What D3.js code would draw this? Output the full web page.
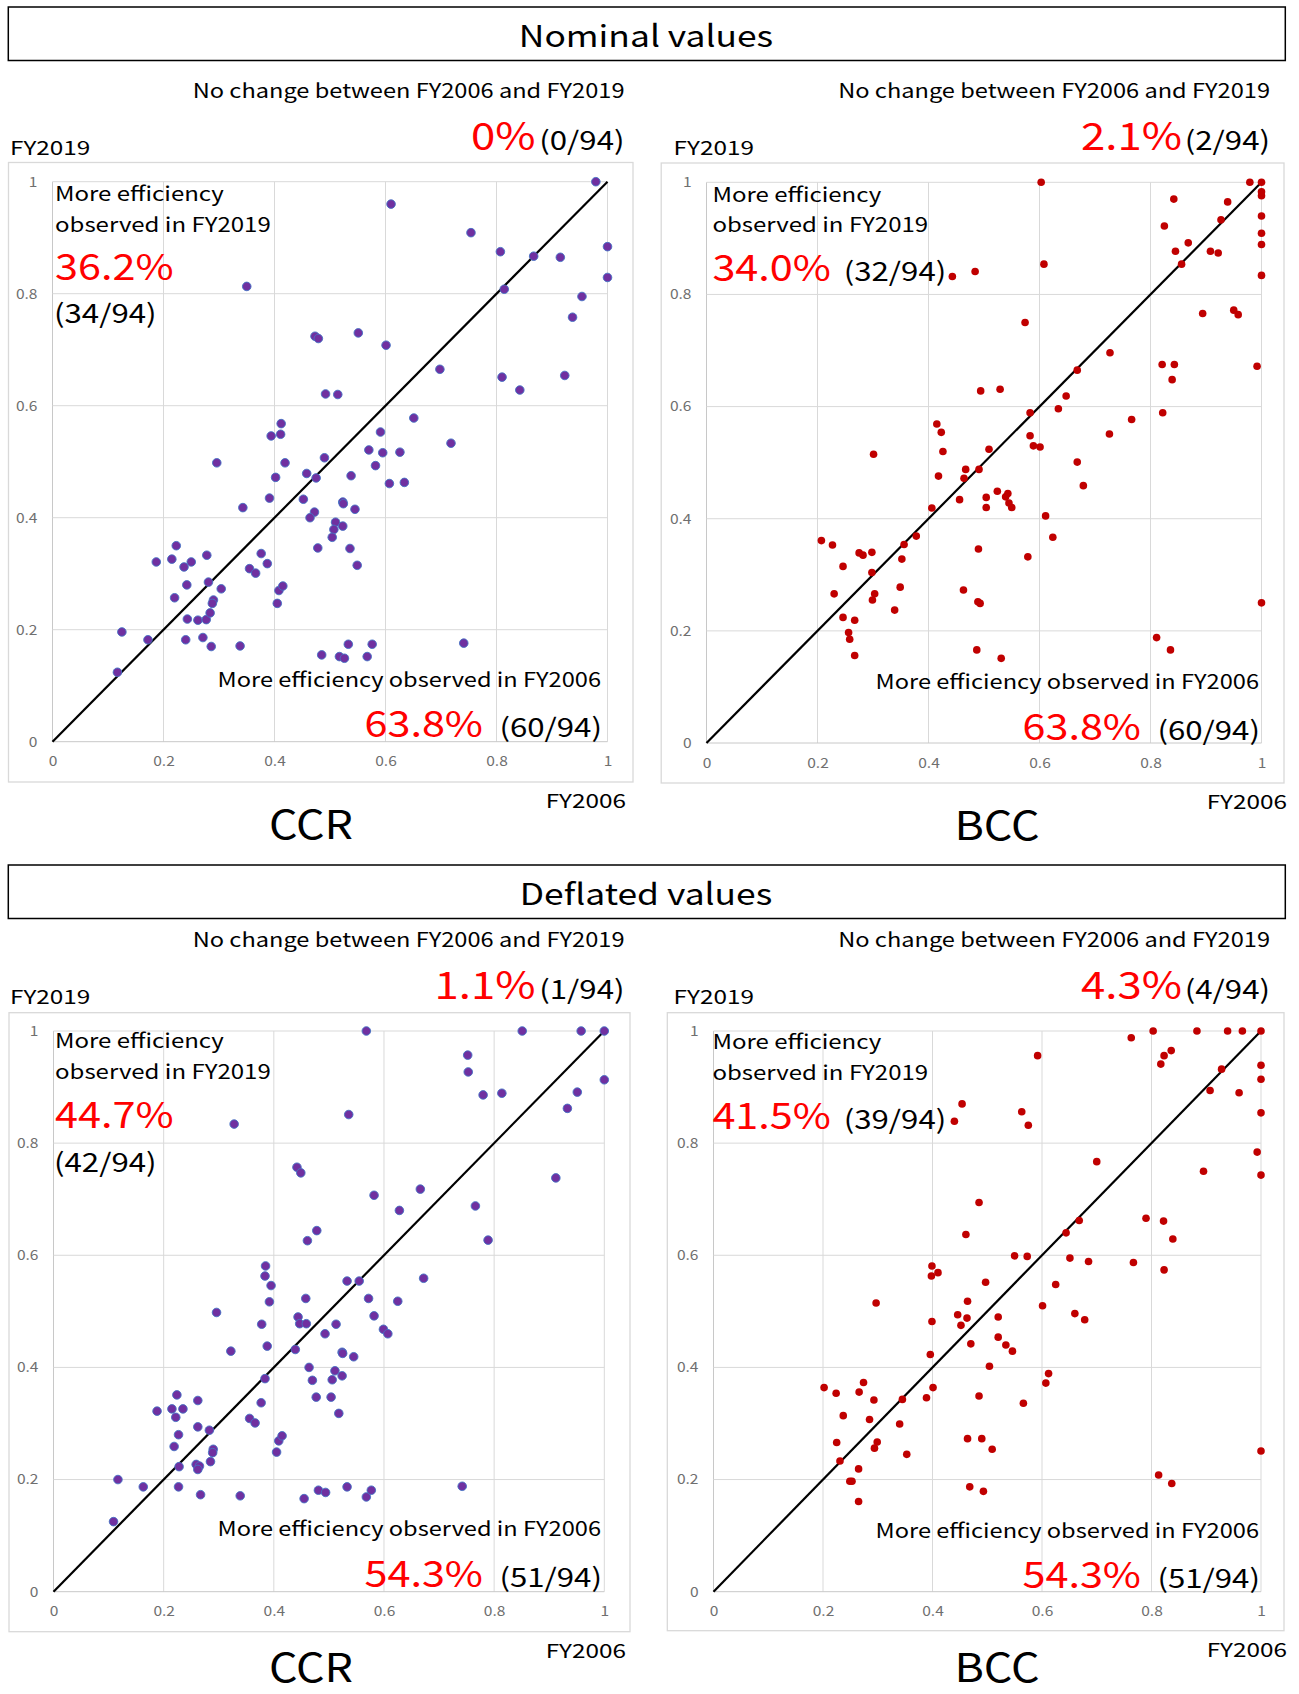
<!DOCTYPE html>
<html>
<head>
<meta charset="utf-8">
<script src="https://cdn.jsdelivr.net/npm/d3@7"></script>
<style>
  body { margin: 0; background: #fff; }
  text { font-family: "Noto Sans CJK JP", "Noto Sans", sans-serif; }
</style>
</head>
<body>
<svg id="chart"></svg>
<script>
// Efficiency scores FY2006 (x) vs FY2019 (y), 94 units per panel
// pairs are [FY2006, FY2019]

const nominalCCR = [
  [0.979,1.000],[0.610,0.960],[0.754,0.909],[0.807,0.875],[0.867,0.867],[0.915,0.865],[1.000,0.884],[1.000,0.829],
  [0.350,0.813],[0.814,0.808],[0.954,0.795],[0.937,0.758],[0.473,0.724],[0.479,0.720],[0.551,0.730],[0.601,0.708],
  [0.698,0.665],[0.810,0.651],[0.923,0.654],[0.842,0.628],[0.492,0.621],[0.514,0.620],[0.651,0.578],[0.412,0.568],
  [0.394,0.546],[0.411,0.549],[0.591,0.553],[0.718,0.533],[0.570,0.521],[0.595,0.516],[0.626,0.517],[0.296,0.498],
  [0.419,0.498],[0.490,0.507],[0.582,0.493],[0.458,0.479],[0.538,0.475],[0.402,0.472],[0.475,0.471],[0.607,0.461],
  [0.634,0.463],[0.343,0.418],[0.391,0.435],[0.452,0.433],[0.523,0.428],[0.524,0.425],[0.545,0.415],[0.472,0.410],
  [0.464,0.400],[0.510,0.392],[0.507,0.379],[0.523,0.385],[0.504,0.365],[0.478,0.346],[0.536,0.345],[0.549,0.315],
  [0.223,0.350],[0.187,0.321],[0.215,0.326],[0.237,0.312],[0.250,0.321],[0.278,0.333],[0.376,0.336],[0.387,0.318],
  [0.355,0.309],[0.366,0.301],[0.242,0.280],[0.281,0.285],[0.304,0.273],[0.220,0.257],[0.290,0.253],[0.288,0.247],
  [0.408,0.270],[0.415,0.278],[0.405,0.247],[0.243,0.219],[0.262,0.217],[0.277,0.218],[0.284,0.230],[0.125,0.196],
  [0.172,0.182],[0.240,0.182],[0.271,0.186],[0.286,0.170],[0.338,0.171],[0.117,0.124],[0.485,0.155],[0.517,0.152],
  [0.526,0.149],[0.533,0.174],[0.567,0.152],[0.576,0.174],[0.741,0.176]
]

const nominalBCC = [
  [0.603,1.000],[0.979,1.000],[1.000,1.000],[1.000,0.983],[1.000,0.976],[0.842,0.970],[0.939,0.965],[0.927,0.933],
  [1.000,0.940],[0.825,0.922],[1.000,0.909],[0.868,0.892],[1.000,0.889],[0.845,0.877],[0.908,0.877],[0.922,0.874],
  [0.856,0.854],[0.608,0.854],[1.000,0.834],[0.443,0.832],[0.484,0.841],[0.894,0.766],[0.950,0.772],[0.958,0.764],
  [0.574,0.750],[0.727,0.696],[0.821,0.675],[0.843,0.675],[0.992,0.672],[0.839,0.648],[0.668,0.665],[0.494,0.628],
  [0.529,0.631],[0.648,0.619],[0.634,0.596],[0.583,0.589],[0.822,0.589],[0.766,0.577],[0.415,0.569],[0.423,0.554],
  [0.583,0.548],[0.726,0.551],[0.589,0.530],[0.601,0.528],[0.509,0.524],[0.426,0.520],[0.301,0.515],[0.668,0.501],
  [0.467,0.488],[0.491,0.488],[0.418,0.476],[0.464,0.472],[0.679,0.459],[0.524,0.449],[0.543,0.445],[0.504,0.438],
  [0.456,0.434],[0.539,0.439],[0.545,0.428],[0.550,0.420],[0.504,0.420],[0.406,0.419],[0.611,0.405],[0.624,0.367],
  [0.378,0.369],[0.356,0.354],[0.207,0.361],[0.227,0.353],[0.275,0.339],[0.282,0.335],[0.298,0.340],[0.352,0.328],
  [0.246,0.315],[0.298,0.304],[0.490,0.346],[0.579,0.332],[0.349,0.278],[0.230,0.266],[0.303,0.266],[0.299,0.255],
  [0.463,0.273],[0.489,0.252],[0.493,0.249],[0.339,0.237],[0.246,0.224],[0.267,0.219],[0.256,0.197],[0.258,0.185],
  [0.267,0.156],[0.487,0.166],[0.531,0.151],[0.811,0.188],[0.836,0.166],[1.000,0.250]
]

const deflatedCCR = [
  [0.568,1.000],[0.851,1.000],[0.958,1.000],[1.000,1.000],[0.752,0.957],[0.753,0.927],[1.000,0.913],[0.780,0.886],
  [0.814,0.889],[0.951,0.891],[0.933,0.862],[0.536,0.851],[0.328,0.834],[0.442,0.757],[0.449,0.747],[0.912,0.738],
  [0.666,0.718],[0.582,0.707],[0.766,0.688],[0.628,0.680],[0.478,0.644],[0.461,0.626],[0.789,0.627],[0.385,0.581],
  [0.384,0.563],[0.395,0.546],[0.672,0.559],[0.533,0.554],[0.555,0.554],[0.392,0.517],[0.458,0.523],[0.572,0.523],
  [0.625,0.518],[0.296,0.498],[0.582,0.492],[0.444,0.490],[0.378,0.477],[0.447,0.478],[0.459,0.478],[0.513,0.477],
  [0.599,0.468],[0.493,0.460],[0.607,0.460],[0.322,0.429],[0.388,0.438],[0.439,0.432],[0.524,0.427],[0.525,0.425],
  [0.545,0.419],[0.464,0.400],[0.511,0.394],[0.384,0.380],[0.470,0.377],[0.506,0.378],[0.524,0.385],[0.477,0.347],
  [0.504,0.347],[0.518,0.318],[0.224,0.351],[0.262,0.341],[0.188,0.322],[0.215,0.326],[0.235,0.326],[0.222,0.311],
  [0.377,0.337],[0.356,0.309],[0.366,0.301],[0.262,0.294],[0.283,0.288],[0.227,0.280],[0.219,0.259],[0.290,0.254],
  [0.289,0.248],[0.409,0.269],[0.415,0.278],[0.405,0.249],[0.285,0.232],[0.228,0.223],[0.259,0.227],[0.265,0.224],
  [0.262,0.218],[0.117,0.200],[0.163,0.187],[0.227,0.187],[0.267,0.173],[0.339,0.171],[0.109,0.125],[0.455,0.166],
  [0.481,0.181],[0.494,0.177],[0.533,0.187],[0.568,0.169],[0.577,0.181],[0.742,0.188]
]

const deflatedBCC = [
  [0.803,1.000],[0.883,1.000],[0.939,1.000],[0.966,1.000],[1.000,1.000],[0.763,0.988],[0.823,0.956],[0.836,0.965],
  [0.817,0.941],[0.592,0.956],[0.928,0.932],[1.000,0.939],[1.000,0.914],[0.907,0.894],[0.960,0.890],[1.000,0.854],
  [0.454,0.870],[0.440,0.839],[0.563,0.856],[0.575,0.832],[0.993,0.784],[0.700,0.767],[0.895,0.750],[1.000,0.743],
  [0.485,0.694],[0.790,0.666],[0.822,0.661],[0.668,0.662],[0.839,0.629],[0.461,0.637],[0.644,0.640],[0.550,0.599],
  [0.573,0.598],[0.651,0.595],[0.685,0.589],[0.767,0.587],[0.823,0.574],[0.399,0.581],[0.398,0.563],[0.410,0.569],
  [0.497,0.552],[0.625,0.548],[0.464,0.518],[0.297,0.515],[0.601,0.510],[0.446,0.494],[0.463,0.488],[0.520,0.490],
  [0.660,0.496],[0.678,0.485],[0.399,0.482],[0.452,0.475],[0.520,0.454],[0.470,0.442],[0.534,0.440],[0.546,0.429],
  [0.396,0.423],[0.504,0.402],[0.612,0.389],[0.607,0.372],[0.401,0.364],[0.202,0.364],[0.224,0.354],[0.274,0.373],
  [0.266,0.356],[0.293,0.342],[0.345,0.343],[0.389,0.346],[0.485,0.349],[0.566,0.336],[0.237,0.314],[0.285,0.307],
  [0.340,0.299],[0.225,0.266],[0.299,0.267],[0.294,0.256],[0.353,0.245],[0.464,0.273],[0.490,0.273],[0.509,0.254],
  [0.231,0.233],[0.265,0.219],[0.249,0.197],[0.253,0.197],[0.265,0.161],[0.468,0.187],[0.493,0.179],[0.813,0.208],
  [0.837,0.193],[1.000,0.251]
]

// labels
const sectionTitles = ['Nominal values', 'Deflated values']
const modelNames   = ['CCR', 'BCC', 'CCR', 'BCC']
const noChangePct  = ['0%', '2.1%', '1.1%', '4.3%']
const noChangeCnt  = ['(0/94)', '(2/94)', '(1/94)', '(4/94)']
const upPct        = ['36.2%', '34.0%', '44.7%', '41.5%']
const upCnt        = ['(34/94)', '(32/94)', '(42/94)', '(39/94)']
const downPct      = ['63.8%', '63.8%', '54.3%', '54.3%']
const downCnt      = ['(60/94)', '(60/94)', '(51/94)', '(51/94)']
const tickValues   = [0, 0.2, 0.4, 0.6, 0.8, 1]
const series       = [nominalCCR, nominalBCC, deflatedCCR, deflatedBCC]

const W = 1299, H = 1694
const RED = '#ff0000'
const WIDE = 1.2   // el texto original usa una fuente más ancha

svg = d3.select('#chart').attr('width', W).attr('height', H)

// posiciones de cada panel (px)
const layout = [
  { box: [8.5, 162.5, 633, 782], plot: [52.5, 607.5, 741.7, 181.7], fyX: 10, top: 0,
    upX: 55, upY: [200.7, 231.7, 280, 323], inline: false, dnR: 601, dnY: [687, 737], dnPctR: 483, dnCntR: 602,
    ncR: 624.5, ncPctR: 535.5, fy06R: 626, nameX: 311, dot: 'ccr' },
  { box: [661.2, 163, 1284, 783], plot: [706.5, 1261.5, 743, 182.3], fyX: 673.6, top: 0,
    upX: 712.4, upY: [201.7, 231.7, 280.7], inline: true, cntX: 843.7, dnR: 1259, dnY: [689.3, 740], dnPctR: 1141, dnCntR: 1260,
    ncR: 1270, ncPctR: 1182, fy06R: 1287, nameX: 997, dot: 'bcc' },
  { box: [9, 1012.7, 630, 1631.7], plot: [53.5, 604.3, 1591.7, 1031], fyX: 10, top: 849,
    upX: 55, upY: [1048.3, 1079, 1128, 1171.7], inline: false, dnR: 601, dnY: [1536, 1586.7], dnPctR: 483, dnCntR: 602,
    ncR: 624.5, ncPctR: 535.5, fy06R: 626, nameX: 311, dot: 'ccr' },
  { box: [667.3, 1012.7, 1284, 1630.7], plot: [713.5, 1261, 1591.7, 1031], fyX: 673.6, top: 849,
    upX: 712.4, upY: [1049, 1080, 1129], inline: true, cntX: 843.7, dnR: 1259, dnY: [1537.7, 1587.7], dnPctR: 1141, dnCntR: 1260,
    ncR: 1270, ncPctR: 1182, fy06R: 1287, nameX: 997, dot: 'bcc' }
]

function label(g, s, x, y, size, opts = {}) {
  const t = g.append('text')
    .attr('x', x).attr('y', y)
    .attr('font-size', size)
    .attr('fill', opts.color || '#000')
    .attr('text-anchor', opts.anchor || 'start')
    .text(s)
  const w = t.node().getComputedTextLength()
  t.attr('textLength', w * (opts.wide || WIDE)).attr('lengthAdjust', 'spacingAndGlyphs')
  return t
}

// cajas de título
const titleY = [7, 865]
sectionTitles.forEach((s, i) => {
  svg.append('rect')
    .attr('x', 8.3).attr('y', titleY[i])
    .attr('width', 1277).attr('height', 53.5)
    .attr('fill', '#fff').attr('stroke', '#000').attr('stroke-width', 1.5)
  label(svg, s, 646, titleY[i] + 40, 30, { anchor: 'middle', wide: 1.18 })
})

function drawPanel(L, i) {
  const data = series[i]
  const g = svg.append('g')

  // borde del gráfico
  g.append('rect')
    .attr('x', L.box[0]).attr('y', L.box[1])
    .attr('width', L.box[2] - L.box[0]).attr('height', L.box[3] - L.box[1])
    .attr('fill', '#fff').attr('stroke', '#d9d9d9').attr('stroke-width', 1.3)

  const x = d3.scaleLinear().domain([0, 1]).range([L.plot[0], L.plot[1]])
  const y = d3.scaleLinear().domain([0, 1]).range([L.plot[2], L.plot[3]])

  // grilla
  g.selectAll('.vg').data(tickValues).join('line')
    .attr('x1', d => x(d)).attr('x2', d => x(d))
    .attr('y1', y(0)).attr('y2', y(1))
    .attr('stroke', d => d === 0 ? '#c8c8c8' : '#d9d9d9').attr('stroke-width', 1)
  g.selectAll('.hg').data(tickValues).join('line')
    .attr('y1', d => y(d)).attr('y2', d => y(d))
    .attr('x1', x(0)).attr('x2', x(1))
    .attr('stroke', d => d === 0 ? '#c8c8c8' : '#d9d9d9').attr('stroke-width', 1)

  // ejes (solo etiquetas)
  const fmt = d => d === 0 ? '0' : d === 1 ? '1' : d.toFixed(1)
  const yAxis = g.append('g')
    .attr('transform', `translate(${x(0)},0)`)
    .call(d3.axisLeft(y).tickValues(tickValues).tickSize(0).tickPadding(15).tickFormat(fmt))
  const xAxis = g.append('g')
    .attr('transform', `translate(0,${y(0)})`)
    .call(d3.axisBottom(x).tickValues(tickValues).tickSize(0).tickPadding(15).tickFormat(fmt))
  ;[yAxis, xAxis].forEach(a => {
    a.select('.domain').remove()
    a.selectAll('text')
      .attr('fill', '#6f6f6f').attr('font-size', 13.5)
      .each(function() {
        this.setAttribute('textLength', this.getComputedTextLength() * 1.15)
        this.setAttribute('lengthAdjust', 'spacingAndGlyphs')
      })
  })

  // línea de 45°
  g.append('line')
    .attr('x1', x(0)).attr('y1', y(0))
    .attr('x2', x(1)).attr('y2', y(1))
    .attr('stroke', '#000').attr('stroke-width', 2.2)

  // puntos
  const ccr = L.dot === 'ccr'
  g.selectAll('circle').data(data).join('circle')
    .attr('cx', d => x(d[0]))
    .attr('cy', d => y(d[1]))
    .attr('r', ccr ? 4.3 : 3.8)
    .attr('fill', ccr ? '#7030a0' : '#c00000')
    .attr('stroke', ccr ? '#4472c4' : 'none')
    .attr('stroke-width', 0.9)

  // textos fuera del gráfico
  label(g, 'FY2019', L.fyX, 155 + L.top, 19, { wide: 1.28 })
  label(g, 'No change between FY2006 and FY2019', L.ncR, 98.3 + L.top, 20, { anchor: 'end', wide: 1.18 })
  label(g, noChangeCnt[i], L.ncR, 150 + L.top, 26, { anchor: 'end' })
  label(g, noChangePct[i], L.ncPctR, 150 + L.top, 38, { anchor: 'end', color: RED, wide: 1.15 })
  label(g, 'FY2006', L.fy06R, L.box[3] + 26, 19, { anchor: 'end', wide: 1.28 })
  // el nombre de abajo queda pegado al borde inferior; se sube un poco
  label(g, modelNames[i], L.nameX, Math.min(L.box[3] + 57, H - 12), 40, { anchor: 'middle', wide: 1.12 })

  // textos dentro del gráfico
  label(g, 'More efficiency', L.upX, L.upY[0], 20)
  label(g, 'observed in FY2019', L.upX, L.upY[1], 20)
  label(g, upPct[i], L.upX, L.upY[2], 36, { color: RED, wide: 1.15 })
  if (L.inline) label(g, upCnt[i], L.cntX, L.upY[2], 26)
  else label(g, upCnt[i], L.upX - 1, L.upY[3], 26)

  label(g, 'More efficiency observed in FY2006', L.dnR, L.dnY[0], 20, { anchor: 'end', wide: 1.18 })
  label(g, downPct[i], L.dnPctR, L.dnY[1], 36, { anchor: 'end', color: RED, wide: 1.15 })
  label(g, downCnt[i], L.dnCntR, L.dnY[1], 26, { anchor: 'end' })
}

layout.forEach((L, i) => drawPanel(L, i))
</script>
</body>
</html>
